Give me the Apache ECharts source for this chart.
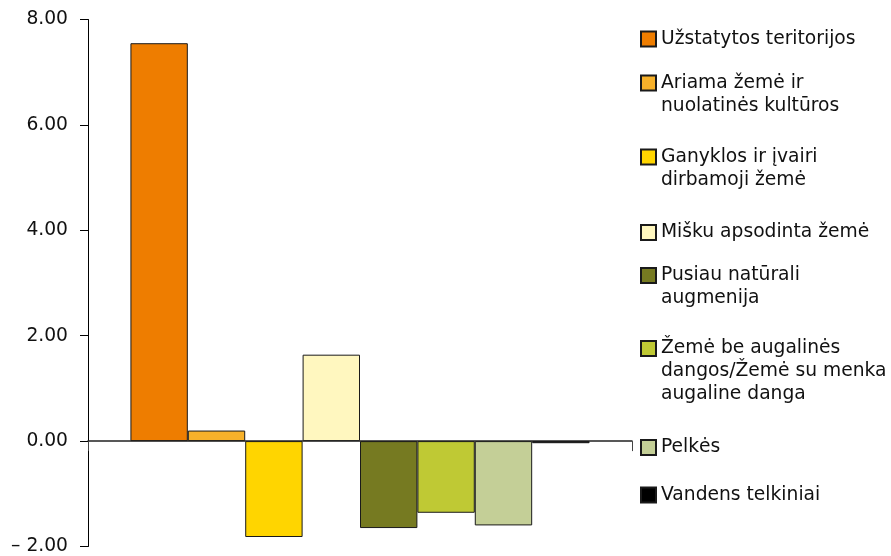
<!DOCTYPE html>
<html><head><meta charset="utf-8">
<script src="https://cdn.jsdelivr.net/npm/echarts@6/dist/echarts.min.js"></script>
<style>html,body{margin:0;padding:0;background:#fff}#c{width:891px;height:556px}</style>
</head><body><div id="c"></div>
<script>
// ---- data ----
const categories = ['Pokytis'];
const seriesNames = [
  'Užstatytos teritorijos',
  'Ariama žemė ir nuolatinės kultūros',
  'Ganyklos ir įvairi dirbamoji žemė',
  'Mišku apsodinta žemė',
  'Pusiau natūrali augmenija',
  'Žemė be augalinės dangos/Žemė su menka augaline danga',
  'Pelkės',
  'Vandens telkiniai'
];
const legendLabels = [
  'Užstatytos teritorijos',
  'Ariama žemė ir\nnuolatinės kultūros',
  'Ganyklos ir įvairi\ndirbamoji žemė',
  'Mišku apsodinta žemė',
  'Pusiau natūrali\naugmenija',
  'Žemė be augalinės\ndangos/Žemė su menka\naugaline danga',
  'Pelkės',
  'Vandens telkiniai'
];
const seriesValues = [7.55, 0.20, -1.82, 1.64, -1.65, -1.36, -1.60, -0.04];
const yMin = -2, yMax = 8, yStep = 2;

// ---- style / layout ----
const seriesColors = ['#EE7D00', '#F7B12A', '#FFD500', '#FFF7BF', '#767A21', '#BFC934', '#C4CF97', '#000000'];
const legendCenters = [39, 83, 157, 232.5, 275.5, 348.5, 447.5, 495];
const FONT = 'DejaVu Sans';
const FS = 18.7;
const LH = 23;

const chart = echarts.init(document.getElementById('c'), null, {renderer: 'canvas'});

const series = seriesNames.map((name, i) => ({
  name: name,
  type: 'bar',
  data: [seriesValues[i]],
  barGap: '0%',
  barCategoryGap: '15.6%',
  itemStyle: {color: seriesColors[i], borderColor: '#1a1a1a', borderWidth: 1},
  emphasis: {disabled: true},
  silent: true
}));

const legends = seriesNames.map((name, i) => {
  const lines = legendLabels[i].split('\n').length;
  // leading blank lines so the first text line sits level with the icon
  const txt = '\n'.repeat(lines - 1) + legendLabels[i];
  return {
    data: [name],
    left: 640,
    top: legendCenters[i] - (2 * lines - 1) * LH / 2,
    padding: 0,
    itemWidth: 15,
    itemHeight: 15,
    itemGap: 6,
    selectedMode: false,
    icon: 'rect',
    formatter: () => txt,
    textStyle: {
      fontFamily: FONT, fontSize: FS, color: '#111',
      lineHeight: LH
    }
  };
});

chart.setOption({
  animation: false,
  backgroundColor: '#ffffff',
  grid: {left: 88, right: 259, top: 19.5, bottom: 9.5, containLabel: false},
  legend: legends,
  xAxis: {
    type: 'category',
    data: categories,
    axisLine: {show: true, onZero: true, lineStyle: {color: '#222', width: 1.5}},
    axisTick: {show: true, length: 10, inside: false, lineStyle: {color: '#444'}},
    axisLabel: {show: false},
    splitLine: {show: false}
  },
  yAxis: {
    type: 'value',
    min: yMin, max: yMax, interval: yStep,
    axisLine: {show: true, lineStyle: {color: '#000', width: 1}},
    axisTick: {show: true, length: 8, lineStyle: {color: '#000'}},
    axisLabel: {
      margin: 20,
      fontFamily: FONT, fontSize: FS, color: '#111',
      formatter: v => (v < 0 ? '\u2013 ' + Math.abs(v).toFixed(2) : v.toFixed(2))
    },
    splitLine: {show: false}
  },
  series: series
});
</script>
</body></html>
